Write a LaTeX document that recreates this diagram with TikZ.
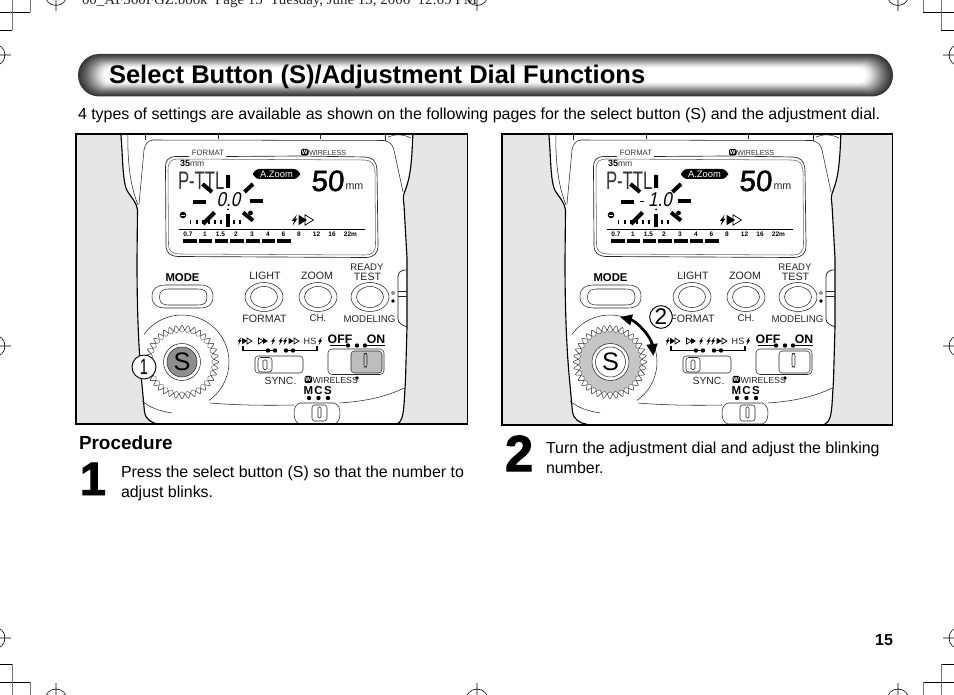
\documentclass[tikz,border=0pt]{standalone}
\usepackage{fontspec}
\setmainfont{Liberation Sans}
\newfontfamily\serff{Liberation Serif}
\newfontfamily\condf[FakeStretch=0.66]{Liberation Sans}
\newfontfamily\lcdf[FakeSlant=0.2,FakeStretch=0.85]{Liberation Sans}
\newfontfamily\lcdg[FakeSlant=0.08,FakeBold=1.6]{Liberation Sans}
\newfontfamily\heavyf[UprightFont=* Bold,FakeBold=2]{Liberation Sans}
\usetikzlibrary{arrows.meta}
\definecolor{sidegray}{HTML}{E6E6E6}
\definecolor{knobgray}{HTML}{BDBDBD}
\definecolor{gearfill}{HTML}{C6C6C6}
\definecolor{btngray}{HTML}{8E8E8E}
\definecolor{cropgray}{HTML}{777777}
\tikzset{
  txt/.style={inner sep=0pt,outer sep=0pt,text=black},
  lab/.style={txt,font=\fontsize{8}{8}\selectfont,text=black!85},
  lcdlab/.style={txt,font=\fontsize{5.8}{6}\selectfont,text=black!80},
  scalelab/.style={txt,font=\fontsize{4.9}{5}\selectfont\bfseries},
  bodyline/.style={line width=0.85pt,black},
  thinl/.style={line width=0.4pt,black!85},
  seg/.style={line width=2.9pt,black},
  crop/.style={line width=0.6pt,black},
  cropg/.style={line width=0.6pt,cropgray},
  para/.style={txt,font=\fontsize{11.96}{15}\selectfont,anchor=base west},
  bignum/.style={txt,font=\fontsize{35}{35}\heavyf,anchor=base west},
  callout/.style={circle,draw=black,line width=0.7pt,fill=white,inner sep=0pt,minimum size=18pt,font=\fontsize{16.5}{16}\condf}
}
% bolt, filled and hollow triangle icons
\newcommand{\fbolt}[3][1]{\fill[shift={(#2,#3)},scale=#1] (1.9,-4.4)--(-2.1,0.7)--(-0.3,0.7)--(-1.5,4.4)--(2.3,-1)--(0.5,-1)--cycle;}
\newcommand{\ftri}[3][1]{\fill[shift={(#2,#3)},scale=#1] (0,-4)--(6.5,0)--(0,4)--cycle;}
\newcommand{\htri}[3][1]{\draw[line width=0.55pt,shift={(#2,#3)},scale=#1] (0,-4)--(6.5,0)--(0,4)--cycle;}
% #1 gear fill, #2 S fill, #3 ON knob fill
\newcommand{\flashbody}[3]{%
  % body silhouette
  \draw[bodyline,fill=white] (120.5,128) -- (122,150) .. controls (123,172) and (124,187) .. (128,192)
    .. controls (131,197) and (137,203) .. (137.5,210) -- (137,260) .. controls (137,300) and (138,345) .. (142,385)
    -- (144.5,412) .. controls (146,420) and (152,423) .. (158,424) -- (158,430) -- (397,430) -- (397,424)
    .. controls (402,422) and (403,415) .. (404,405) -- (405.5,380) -- (407,327) -- (407,296) -- (407,270) -- (407,258) -- (404,205)
    .. controls (403,198) and (403,196) .. (405,191) .. controls (410,178) and (412,165) .. (413,128) -- cycle;
  % side tab
  \draw[thinl,line width=0.6pt] (407,270)--(404,270) .. controls (400,271) and (398,273) .. (398,277) -- (398,319)
     .. controls (398,323) and (402,325) .. (407,327);
  \draw[thinl] (398,291)--(407,291) (398,296)--(407,296);
  % head
  \draw[thinl] (128,128) .. controls (127,160) and (130,185) .. (138,205);
  \draw[thinl] (145,128)--(145,140) (218,134)--(218,139.5) (320,134)--(320,139.5) (385,134)--(385,141);
  \draw[thinl] (144,150) .. controls (145,144) and (148,140.5) .. (153,140) -- (384,140.5) .. controls (390,142) and (393,145) .. (394,150) -- (403,192);
  \draw[thinl] (139,204) -- (144,150);
  \draw[thinl] (388,137) .. controls (395,134) and (403,134) .. (411,138);
  % LCD
  \draw[thinl,line width=0.5pt] (189,156.5) -- (176,156.5) .. controls (168,157) and (165.5,160) .. (165.5,168) -- (166,245) .. controls (166,253) and (170,256) .. (178,256.5) -- (366,257.5) .. controls (374,257) and (378,254) .. (378,245) -- (377,170) .. controls (376,160) and (373,158) .. (365,157) -- (300,156) -- (226,156.5);
  \draw[thinl,black!60] (168,170) .. controls (168,162) and (171,159) .. (178,159) -- (364,160) .. controls (371,160) and (374,163) .. (375,171) -- (375.5,244) .. controls (375.5,252) and (372,255) .. (365,255) -- (179,254) .. controls (172,253.5) and (168.5,251) .. (168.5,244) -- cycle;
  \node[lcdlab,anchor=center] (fmt) at (208,152.5) {FORMAT};
  \fill[black,rounded corners=1pt] (301,149) rectangle (308.5,155.5);
  \node[txt,text=white,font=\fontsize{4.5}{5}\bfseries\selectfont] (wa) at (304.8,152.3) {W};
  \node[lcdlab,anchor=west,font=\fontsize{5.4}{6}\selectfont] (wl) at (309,152.8) {WIRELESS};
  \node[txt,anchor=base west,font=\fontsize{6.8}{7}\bfseries\selectfont] (f35) at (180,167) {35};
  \node[txt,anchor=base west,font=\fontsize{6.4}{7}\selectfont,text=black!80] (fmm) at (190,167) {mm};
  \node[txt,anchor=base west,font=\fontsize{19}{19}\condf,text=black!80] (pttl) at (178,189.5) {P-TTL};
  \fill[black,rounded corners=5pt] (253,169) rectangle (300,179);
  \node[txt,text=white,font=\fontsize{7}{7}\selectfont] (az) at (276.5,174) {A.Zoom};
  \node[txt,anchor=base west,font=\fontsize{22}{22}\lcdg] (fifty) at (311,191) {50};
  \node[txt,anchor=base west,font=\fontsize{8}{8}\selectfont,text=black!85] (mm) at (345.5,189.5) {mm};
  % burst
  \draw[seg,line width=3pt] (228,175)--(228,188) (202.5,184)--(212,192) (244.5,192)--(253,184);
  \draw[seg,line width=3pt] (193,202)--(206,202) (250,201)--(263,201);
  \draw[seg,line width=3pt] (203,224)--(214.5,212.5) (243,212.5)--(253,220.5);
  \draw[seg,line width=3.2pt] (228,214)--(228,227);
  \fill (250.5,213) circle[radius=2.4];
  \fill (183,215) circle[radius=3.3];
  \draw[white,line width=0.7pt] (180.8,215)--(185.2,215);
  \foreach \tx in {190.5,197,203,209,215,221,234,240} {\fill (\tx-0.6,220) rectangle (\tx+0.6,224.5);}
  \fbolt[1.25]{294.5}{220}\htri[1.3]{305}{220}\ftri[1.3]{298.5}{220}
  % scale
  \draw[line width=0.6pt] (179,229)--(365,229);
  \foreach \lb/\lx in {0.7/188,1/205,1.5/220.5,2/236,3/252,4/268,6/283.5,8/299,12/316.5,16/332,22m/350.5}
    {\node[scalelab] (sc\lx) at (\lx,234.3) {\lb};}
  \foreach \bxa in {183,198.8,214.5,230.2,246,261.6,277.3} {\fill (\bxa,239) rectangle (\bxa+13.6,243);}
  % buttons
  \node[txt,font=\fontsize{8.5}{9}\bfseries\selectfont] (modet) at (182.5,278) {MODE};
  \draw[thinl] (152,296.5) .. controls (152,288) and (158,285) .. (165,285) -- (200,285) .. controls (208,285) and (213,288) .. (213,296.5) .. controls (213,305) and (208,308) .. (200,308) -- (165,308) .. controls (158,308) and (152,305) .. (152,296.5) -- cycle;
  \draw[thinl] (159.5,297) .. controls (159.5,291) and (163,289) .. (168,289) -- (198,289) .. controls (204,289) and (207,291) .. (207,297) .. controls (207,303) and (204,305) .. (198,305) -- (168,305) .. controls (163,305) and (159.5,303) .. (159.5,297) -- cycle;
  \foreach \bx in {264,318,370} {
    \draw[thinl] (\bx,297) ellipse[x radius=19,y radius=14.5];
    \draw[thinl] (\bx,297) ellipse[x radius=13.5,y radius=10.5];
  }
  \node[lab] (tl) at (265,276) {LIGHT};
  \node[lab] (tz) at (317,276) {ZOOM};
  \node[lab,font=\fontsize{7.2}{8}\selectfont] (tr) at (367,267) {READY};
  \node[lab] (tt) at (367.5,276.5) {TEST};
  \node[lab] (tf) at (264.5,318.5) {FORMAT};
  \node[lab,font=\fontsize{7.3}{8}\selectfont] (tc) at (318,318) {CH.};
  \node[lab,font=\fontsize{7.3}{8}\selectfont] (tm) at (369.5,319.5) {MODELING};
  \draw[thinl] (393,293) circle[radius=1.6];
  \fill (393,301) circle[radius=1.9];
  % sync row
  \fbolt[.95]{239.5}{341}\htri[.75]{247}{341}\ftri[.8]{242}{341}
  \htri[.75]{258.5}{341}\ftri[.75]{263}{341}\fbolt[.95]{273}{341}
  \fbolt[.95]{280.5}{341}\fbolt[.95]{285}{341}\htri[.75]{294}{341}\ftri[.8]{288.5}{341}
  \node[txt,font=\fontsize{6.8}{7}\selectfont,text=black!85] (hs) at (310,341.5) {HS};
  \fbolt[.95]{320}{341}
  \node[txt,font=\fontsize{9.2}{9}\bfseries\selectfont] (off) at (340,339) {OFF};
  \node[txt,font=\fontsize{9.2}{9}\bfseries\selectfont] (on) at (376,339) {ON};
  \draw[line width=1pt] (330,345.5)--(348,345.5) (363,345.5)--(385,345.5);
  \foreach \dx in {348,357,365} {\fill (\dx,345.5) circle[radius=2.2];}
  \draw[line width=0.8pt] (243,346)--(243,350.5)--(276,350.5) (284,350.5)--(317,350.5)--(317,346);
  \foreach \dx in {268,275,286,293} {\fill (\dx,350.5) circle[radius=2.2];}
  % sync slider
  \draw[thinl,rounded corners=2.5pt] (255,356) rectangle (303,373);
  \draw[thinl,rounded corners=2pt] (258,357.5) rectangle (272,372);
  \draw[thinl,rounded corners=1pt] (263,360) rectangle (267,369.5);
  % off/on slider
  \draw[thinl,rounded corners=3pt] (328,349) rectangle (384,374.5);
  \draw[thinl,fill=#3,rounded corners=2.5pt] (351,351) rectangle (382,373);
  \draw[thinl,rounded corners=1.5pt] (364,353.5) rectangle (367,367);
  \node[lab,font=\fontsize{7.8}{8}\selectfont] (sy) at (280.5,381) {SYNC.};
  \fill[black,rounded corners=1pt] (304.5,376) rectangle (312,383);
  \node[txt,text=white,font=\fontsize{4.5}{5}\bfseries\selectfont] (wb) at (308.3,379.6) {W};
  \node[txt,anchor=west,font=\fontsize{6.6}{7}\selectfont,text=black!85] (wt) at (312.5,380) {WIRELESS};
  \fill (357,378) circle[radius=1.9];
  \node[txt,font=\fontsize{8.6}{9}\bfseries\selectfont] (tmm) at (308.5,390.5) {M};
  \node[txt,font=\fontsize{8.6}{9}\bfseries\selectfont] (tcc) at (318.5,390.5) {C};
  \node[txt,font=\fontsize{8.6}{9}\bfseries\selectfont] (tss) at (328,390.5) {S};
  \foreach \dx in {309,318.5,328} {\fill (\dx,398) circle[radius=2.2];}
  % bottom slider
  \draw[thinl] (300,403) -- (334,403) .. controls (338,404) and (340,408) .. (340,413) .. controls (340,419) and (338,423) .. (334,424) -- (300,424) .. controls (296,423) and (294,419) .. (294,413) .. controls (294,408) and (296,404) .. (300,403) -- cycle;
  \draw[thinl,rounded corners=2pt] (312,405) rectangle (327,421);
  \draw[thinl,rounded corners=1pt] (318,407) rectangle (321,418);
  \draw[thinl] (340,403) .. controls (370,401) and (390,395) .. (404,388);
  \draw[thinl] (210,403) .. controls (240,405.5) and (270,405.5) .. (294,405);
  \draw[thinl] (142,401) .. controls (150,408) and (160,411) .. (172,413);
  % dial
  \begin{scope}[shift={(182,362)}]
    \draw[thinl] (-144:47) arc[start angle=-144+0,end angle=55,radius=47];
    \draw[line width=0.35pt,black!85,fill=white] plot[domain=0:360,samples=289,smooth] ({(34.5+2.2*cos(36*\x))*cos(\x)},{(34.5+2.2*cos(36*\x))*sin(\x)}) -- cycle;
    \draw[line width=0.3pt,black!70,fill=#1] plot[domain=0:360,samples=289,smooth] ({(30.8+0.9*cos(36*\x+180))*cos(\x)},{(30.8+0.9*cos(36*\x+180))*sin(\x)}) -- cycle;
  \end{scope}
}
\begin{document}
\begin{tikzpicture}[x=0.75pt,y=-0.75pt]
\useasboundingbox (0,0) rectangle (954,695);
\clip (0,0) rectangle (954,695);
\fill[white] (0,0) rectangle (954,695);
% running head
\node[txt,anchor=base west,font=\fontsize{11.2}{11}\serff,text=black!85] (runhead) at (82,4.5) {00\_AF360FGZ.book\ \ Page 15\ \ Tuesday, June 13, 2006\ \ 12:09 PM};
% crop marks
\draw[crop] (0,12)--(30,12) (0,30)--(12,30) (923,12)--(954,12) (941,30)--(954,30)
  (0,664)--(12,664) (0,682)--(30,682) (941,664)--(954,664) (923,682)--(954,682);
\draw[cropg] (30,0)--(30,12) (12,0)--(12,30) (923,0)--(923,12) (941,0)--(941,30)
  (12,664)--(12,695) (30,682)--(30,695) (941,664)--(941,695) (923,682)--(923,695);
\foreach \cx in {56,477,898} {
  \draw[line width=0.45pt] (\cx,-5.5) circle[radius=11] (\cx,0)--(\cx,11);
  \draw[line width=0.45pt] (\cx,700) circle[radius=11] (\cx,683)--(\cx,695);
}
\foreach \cy in {55,346,638} {
  \draw[line width=0.45pt] (-6,\cy) circle[radius=11] (0,\cy)--(11,\cy);
  \draw[line width=0.45pt] (960,\cy) circle[radius=11] (943,\cy)--(954,\cy);
}
% title bar
\foreach \i/\g in {0/22,1/26,2/31,3/36,4/42,5/48,6/54,7/60,8/67,9/74,10/81,11/87,12/92,13/96,14/100} {
  \pgfmathsetmacro{\ax}{78+1.9*\i}
  \pgfmathsetmacro{\bx}{893-1.9*\i}
  \pgfmathsetmacro{\ay}{54+\i}
  \pgfmathsetmacro{\by}{96.5-\i}
  \pgfmathsetmacro{\rad}{max(0.8,(21.2-\i)*0.75)}
  \fill[black!\the\numexpr100-\g\relax,rounded corners=\rad pt] (\ax,\ay) rectangle (\bx,\by);
}
\node[txt,anchor=base west,font=\fontsize{19.15}{20}\bfseries\selectfont] (title) at (109,84) {Select Button (S)/Adjustment Dial Functions};
\node[para] (intro) at (78,119.5) {4 types of settings are available as shown on the following pages for the select button (S) and the adjustment dial.};
% left panel
\begin{scope}[name prefix=L-]
  \begin{scope}
    \clip (76,134) rectangle (467.5,424);
    \fill[sidegray] (76,134) rectangle (467.5,424);
    \flashbody{white}{btngray}{knobgray}
    \node[txt,font=\fontsize{15}{15}\lcdf,anchor=center] (read) at (228.5,200) {0.0};
    \fill (228,209.5) circle[radius=1];
    \begin{scope}[shift={(182,362)}]
      \draw[thinl,fill=white] (0,0) circle[radius=18.5];
      \draw[thinl,fill=btngray] (0,0) circle[radius=15];
      \node[txt,font=\fontsize{19}{19}\selectfont] (sb) at (0,0) {S};
    \end{scope}
    \node[callout] (c1) at (144,367) {1};
  \end{scope}
  \draw[line width=0.8pt] (76,134) rectangle (467.5,424);
\end{scope}
% right panel
\begin{scope}[name prefix=R-,shift={(428,0)}]
  \begin{scope}
    \clip (74,134) rectangle (464.5,425);
    \fill[sidegray] (74,134) rectangle (464.5,425);
    \flashbody{gearfill}{white}{white}
    \draw[line width=1.3pt] (212,201.5)--(216,201.5);
    \node[txt,font=\fontsize{15}{15}\lcdf,anchor=center] (read) at (232,200) {1.0};
    \fill (228,209.5) circle[radius=1];
    \begin{scope}[shift={(182.5,362)}]
      \draw[thinl,fill=white] (0,0) circle[radius=18.5];
      \draw[thinl,fill=white] (0,0) circle[radius=15];
      \node[txt,font=\fontsize{19}{19}\selectfont] (sb) at (0,0) {S};
    \end{scope}
    \coordinate (arA) at (192,317);
    \coordinate (arB) at (225.5,356);
    \draw[line width=2pt,{Triangle[length=9pt,width=8pt]}-{Triangle[length=9pt,width=8pt]}] (arA) .. controls (208,321) and (223,336) .. (arB);
    \node[callout,minimum size=17pt,font=\fontsize{17}{17}\selectfont] (c2) at (233,317) {2};
  \end{scope}
  \draw[line width=0.8pt] (74,134) rectangle (464.5,425);
\end{scope}
% procedure text
\node[txt,anchor=base west,font=\fontsize{14.2}{14}\bfseries\selectfont] (proc) at (79,449.5) {Procedure};
\node[bignum] (n1) at (80,495) {1};
\node[para] (p1a) at (121,477.5) {Press the select button (S) so that the number to};
\node[para] (p1b) at (121,497.5) {adjust blinks.};
\node[bignum,font=\fontsize{38}{38}\heavyf] (n2) at (505,471) {2};
\node[para] (p2a) at (546,453.5) {Turn the adjustment dial and adjust the blinking};
\node[para] (p2b) at (546,473.5) {number.};
\node[txt,anchor=base east,font=\fontsize{12}{12}\bfseries\selectfont] (pg) at (893,645) {15};
\end{tikzpicture}
\end{document}
